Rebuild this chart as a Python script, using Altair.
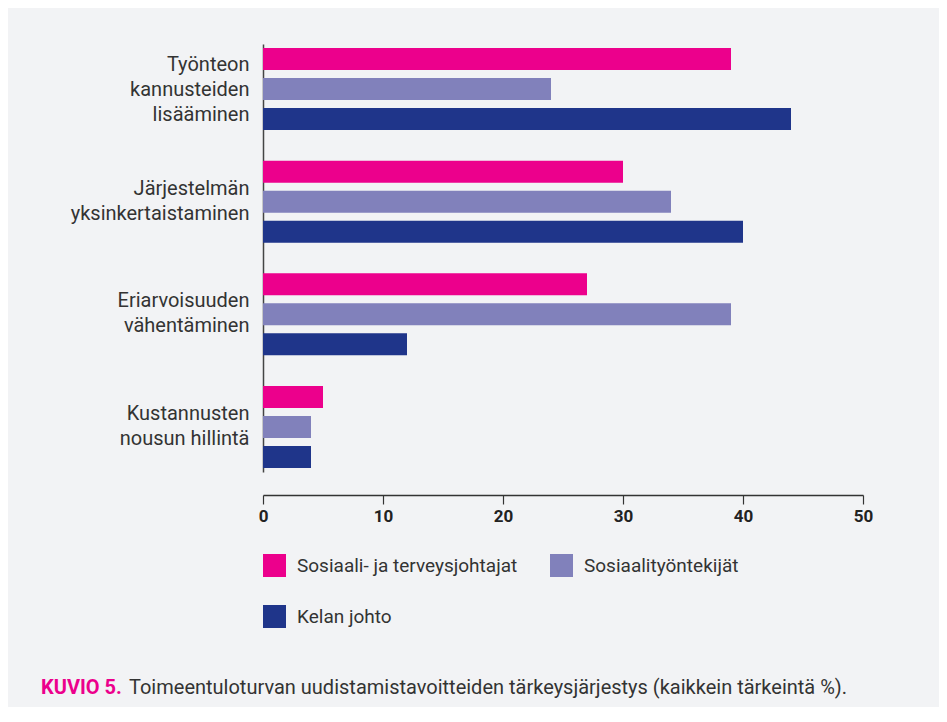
import altair as alt
import pandas as pd

categories = [
    "Työnteon|kannusteiden|lisääminen",
    "Järjestelmän|yksinkertaistaminen",
    "Eriarvoisuuden|vähentäminen",
    "Kustannusten|nousun hillintä",
]
series = ["Sosiaali- ja terveysjohtajat", "Sosiaalityöntekijät", "Kelan johto"]
sote_johtajat = [39, 30, 27, 5]
sosiaalityontekijat = [24, 34, 39, 4]
kelan_johto = [44, 40, 12, 4]
colors = ["#ec008c", "#8181bb", "#1f358a"]
x_ticks = [0, 10, 20, 30, 40, 50]
caption_label = "KUVIO 5."
caption_text = "Toimeentuloturvan uudistamistavoitteiden tärkeysjärjestys (kaikkein tärkeintä %)."

FONT = "Roboto"
BG = "#f2f3f5"

rows = []
for s, vals in zip(series, [sote_johtajat, sosiaalityontekijat, kelan_johto]):
    for c, v in zip(categories, vals):
        rows.append({"cat": c, "series": s, "value": v})
df = pd.DataFrame(rows)

bars = alt.Chart(df).mark_bar().encode(
    y=alt.Y(
        "cat:N",
        sort=categories,
        title=None,
        scale=alt.Scale(range=[-1, 427], paddingInner=0.2, paddingOuter=0),
        axis=alt.Axis(
            ticks=False,
            labelPadding=14,
            labelFontSize=20,
            labelLineHeight=25,
            labelFont=FONT,
            labelColor="#333333",
            labelAlign="right",
            labelExpr="split(datum.label, '|')",
            labelOffset={
                "condition": {
                    "test": "length(split(datum.value, '|')) == 3",
                    "value": -24,
                },
                "value": -13,
            },
            domainColor="#444444",
            domainWidth=1.5,
            grid=False,
        ),
    ),
    yOffset=alt.YOffset(
        "series:N",
        sort=series,
        scale=alt.Scale(paddingInner=0.267, paddingOuter=0.133),
    ),
    x=alt.X(
        "value:Q",
        title=None,
        scale=alt.Scale(domain=[0, 50], nice=False),
        axis=alt.Axis(
            values=x_ticks,
            tickSize=9,
            tickColor="#333333",
            tickWidth=1.2,
            domainColor="#333333",
            domainWidth=1.5,
            labelFont=FONT,
            labelFontSize=17,
            labelFontWeight="bold",
            labelColor="#222222",
            labelPadding=4,
            labelFlush=False,
            grid=False,
        ),
    ),
    color=alt.Color(
        "series:N",
        sort=series,
        scale=alt.Scale(domain=series, range=colors),
        legend=alt.Legend(
            title=None,
            orient="none",
            direction="horizontal",
            legendX=0,
            legendY=509,
            columns=2,
            symbolType="square",
            symbolSize=529,
            symbolStrokeWidth=0,
            symbolOpacity=1,
            labelFont=FONT,
            labelFontSize=19,
            labelColor="#333333",
            labelOffset=11,
            labelLimit=400,
            rowPadding=28,
            columnPadding=32,
            padding=0,
        ),
    ),
)

cap1 = alt.Chart(pd.DataFrame({"t": [caption_label]})).mark_text(
    align="left", baseline="alphabetic", font=FONT, fontSize=20,
    fontWeight="bold", color="#ec008c",
).encode(text="t:N", x=alt.value(-222), y=alt.value(649))

cap2 = alt.Chart(pd.DataFrame({"t": [caption_text]})).mark_text(
    align="left", baseline="alphabetic", font=FONT, fontSize=20,
    color="#333333",
).encode(text="t:N", x=alt.value(-134), y=alt.value(649))

chart = alt.layer(bars, cap1, cap2).properties(
    width=600,
    height=450,
    background=BG,
    padding={"left": 255, "top": 37, "right": 76, "bottom": 212},
    autosize=alt.AutoSizeParams(type="none"),
).configure_view(stroke=None)

chart.save("out.html", embed_options={"renderer": "svg", "actions": False})
